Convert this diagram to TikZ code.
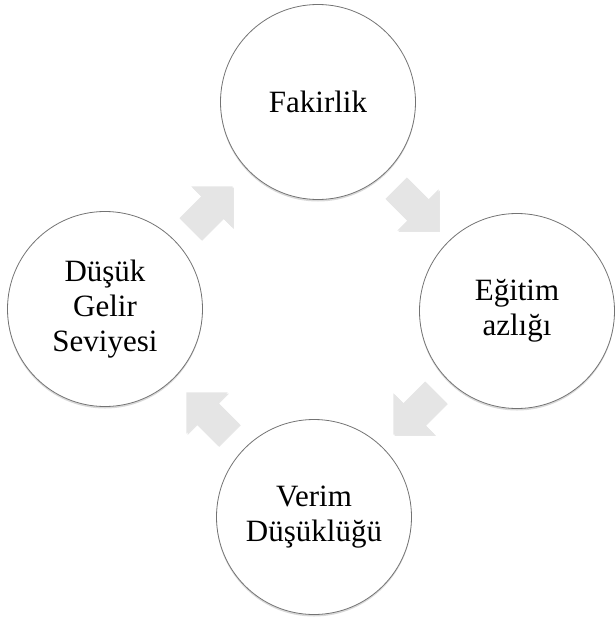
\documentclass[tikz,border=0pt]{standalone}
\usepackage{fontspec}
\setmainfont{Liberation Serif}
\usetikzlibrary{shapes.arrows,shadows}
\begin{document}
\begin{tikzpicture}[x=1pt,y=1pt,
    stage/.style={circle,draw=black!55,line width=0.8pt,fill=white,minimum size=195pt,
      align=center,font=\fontsize{31}{35}\selectfont,
      drop shadow={shadow xshift=0pt,shadow yshift=-2pt,opacity=0.3}},
    turn/.style={single arrow,inner xsep=0pt,inner ysep=15pt,minimum height=60pt,
      single arrow head extend=14pt,draw=none,fill=black!10,
      drop shadow={shadow xshift=1.2pt,shadow yshift=-1.2pt,opacity=0.2}}]
    \tikzstyle{every node}+=[inner sep=0pt]
    \useasboundingbox (0,0) rectangle (614,-619);
    \node [stage] (fak) at (318,-102) {Fakirlik};
    \node [stage] (egt) at (517,-311) {Eğitim\\azlığı};
    \node [stage] (ver) at (314,-517) {Verim\\Düşüklüğü};
    \node [stage] (gel) at (105,-309) {Düşük\\Gelir\\Seviyesi};
    \node [turn,rotate=45] (gelfak) at (206,-213) {};
    \node [turn,rotate=-45] (fakegt) at (412,-204) {};
    \node [turn,rotate=-135] (egtver) at (420,-408) {};
    \node [turn,rotate=135] (vergel) at (213,-419) {};
\end{tikzpicture}
\end{document}
